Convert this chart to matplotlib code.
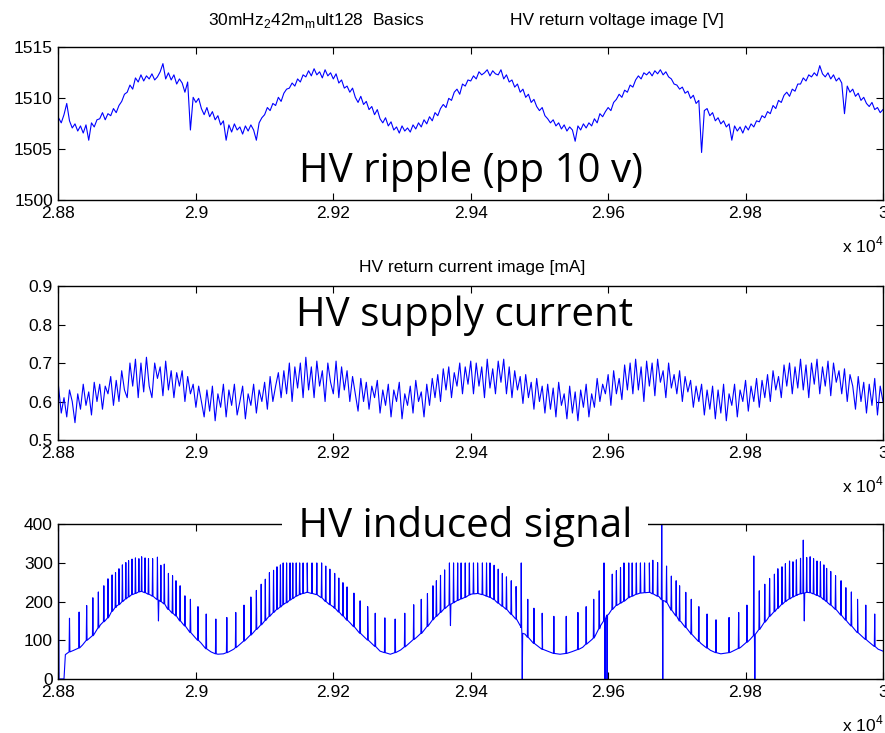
import numpy as np
import matplotlib
matplotlib.use('Agg')
import matplotlib.pyplot as plt
from matplotlib.ticker import FuncFormatter

# time axis of the first two traces
t_volt = np.arange(28800, 30001, 4)
t_curr = np.arange(28800, 30001, 4)

# HV return voltage image [V]
volt = [1508.1, 1507.6, 1508.4, 1509.5, 1507.8, 1507.1, 1507.5, 1506.8, 1507.3, 1506.6, 1507.4, 1505.9, 1507.6, 1507.2, 1507.9,
        1508.0, 1508.6, 1507.9, 1508.5, 1508.3, 1509.0, 1508.6, 1509.3, 1509.7, 1510.4, 1510.6, 1511.3, 1510.9, 1512.0, 1511.6,
        1512.3, 1511.7, 1512.2, 1511.9, 1512.4, 1511.8, 1512.1, 1512.6, 1513.4, 1511.9, 1512.5, 1511.8, 1512.3, 1511.4, 1511.9,
        1511.5, 1510.6, 1511.6, 1506.9, 1510.1, 1509.6, 1510.0, 1509.0, 1508.4, 1509.1, 1508.2, 1508.7, 1507.9, 1508.3, 1507.4,
        1507.8, 1505.9, 1507.4, 1506.7, 1507.5, 1506.9, 1507.2, 1506.5, 1507.3, 1506.8, 1507.4, 1506.9, 1505.9, 1507.6, 1508.1,
        1508.4, 1509.1, 1508.8, 1509.5, 1509.3, 1510.1, 1509.7, 1510.5, 1510.9, 1511.0, 1511.5, 1511.2, 1511.9, 1511.6, 1512.3,
        1512.1, 1512.7, 1512.2, 1512.9, 1512.3, 1512.6, 1512.0, 1512.8, 1512.2, 1512.5, 1511.9, 1512.4, 1511.5, 1511.8, 1511.0,
        1511.2, 1510.6, 1511.0, 1510.1, 1509.6, 1510.2, 1509.4, 1509.7, 1508.9, 1509.2, 1508.4, 1508.9, 1508.0, 1507.6, 1508.1,
        1507.3, 1507.7, 1506.9, 1507.2, 1506.6, 1507.3, 1506.8, 1507.1, 1506.7, 1507.4, 1507.0, 1507.6, 1507.2, 1507.9, 1507.5,
        1508.2, 1507.8, 1508.6, 1508.3, 1509.0, 1509.4, 1509.1, 1510.0, 1509.8, 1510.6, 1510.9, 1510.4, 1511.4, 1511.2, 1511.8,
        1511.7, 1512.2, 1511.9, 1512.6, 1512.3, 1512.5, 1512.8, 1512.2, 1512.7, 1512.4, 1512.3, 1512.8, 1511.9, 1512.3, 1511.6,
        1511.8, 1511.1, 1511.4, 1510.6, 1510.9, 1510.1, 1510.4, 1509.6, 1509.9, 1509.2, 1508.8, 1509.1, 1508.3, 1508.0, 1507.6,
        1507.9, 1507.3, 1507.6, 1507.0, 1507.4, 1506.8, 1507.2, 1506.9, 1505.8, 1507.3, 1506.9, 1507.5, 1507.1, 1507.6, 1507.3,
        1508.0, 1507.6, 1508.5, 1508.2, 1508.7, 1509.1, 1508.8, 1509.6, 1509.9, 1510.4, 1510.1, 1510.8, 1510.6, 1511.3, 1511.1,
        1511.8, 1512.2, 1511.9, 1512.5, 1512.3, 1512.6, 1512.2, 1512.7, 1512.4, 1512.8, 1512.3, 1512.6, 1512.1, 1511.9, 1511.4,
        1511.3, 1510.9, 1511.1, 1510.5, 1510.7, 1510.0, 1510.3, 1509.5, 1509.8, 1504.7, 1508.8, 1509.0, 1508.3, 1508.6, 1507.8,
        1508.1, 1507.5, 1507.8, 1507.2, 1507.5, 1505.9, 1507.3, 1506.8, 1507.2, 1506.6, 1507.3, 1506.9, 1507.5, 1507.2, 1507.8,
        1507.7, 1508.3, 1508.1, 1508.7, 1508.5, 1509.3, 1509.0, 1509.8, 1509.6, 1510.3, 1510.6, 1510.2, 1510.9, 1510.7, 1511.4,
        1511.4, 1512.0, 1511.7, 1512.3, 1512.1, 1512.5, 1512.2, 1513.2, 1512.4, 1512.1, 1512.5, 1511.9, 1512.3, 1511.7, 1512.0,
        1511.5, 1508.5, 1511.2, 1510.6, 1510.9, 1510.2, 1510.5, 1509.8, 1510.1, 1509.5, 1509.2, 1509.6, 1508.9, 1509.1, 1508.6,
        1508.9]

# HV return current image [mA]
curr = [0.64, 0.57, 0.61, 0.56, 0.63, 0.60, 0.545, 0.62, 0.58, 0.645, 0.59, 0.625, 0.565, 0.65, 0.60,
        0.645, 0.58, 0.64, 0.62, 0.665, 0.59, 0.655, 0.60, 0.68, 0.63, 0.61, 0.70, 0.64, 0.71, 0.61,
        0.70, 0.625, 0.715, 0.64, 0.61, 0.70, 0.66, 0.69, 0.615, 0.705, 0.63, 0.68, 0.61, 0.675, 0.64,
        0.68, 0.60, 0.665, 0.62, 0.645, 0.585, 0.64, 0.60, 0.56, 0.63, 0.575, 0.64, 0.55, 0.62, 0.585,
        0.645, 0.56, 0.63, 0.59, 0.645, 0.565, 0.60, 0.64, 0.555, 0.62, 0.59, 0.645, 0.57, 0.63, 0.60,
        0.65, 0.58, 0.665, 0.60, 0.64, 0.675, 0.61, 0.68, 0.62, 0.70, 0.60, 0.69, 0.635, 0.70, 0.61,
        0.715, 0.63, 0.69, 0.61, 0.705, 0.64, 0.68, 0.60, 0.70, 0.65, 0.62, 0.705, 0.61, 0.69, 0.63,
        0.68, 0.60, 0.665, 0.62, 0.575, 0.66, 0.60, 0.65, 0.58, 0.64, 0.61, 0.655, 0.57, 0.63, 0.59,
        0.645, 0.56, 0.63, 0.60, 0.65, 0.555, 0.62, 0.59, 0.64, 0.57, 0.655, 0.60, 0.625, 0.56, 0.645,
        0.59, 0.66, 0.61, 0.67, 0.60, 0.685, 0.63, 0.69, 0.61, 0.675, 0.64, 0.70, 0.62, 0.69, 0.645,
        0.705, 0.62, 0.70, 0.64, 0.69, 0.61, 0.71, 0.635, 0.685, 0.62, 0.705, 0.65, 0.71, 0.62, 0.69,
        0.61, 0.68, 0.63, 0.665, 0.595, 0.67, 0.61, 0.65, 0.58, 0.66, 0.60, 0.64, 0.57, 0.645, 0.58,
        0.635, 0.56, 0.65, 0.59, 0.62, 0.555, 0.64, 0.57, 0.625, 0.55, 0.63, 0.585, 0.645, 0.56, 0.62,
        0.585, 0.66, 0.60, 0.645, 0.62, 0.67, 0.59, 0.68, 0.62, 0.66, 0.605, 0.695, 0.63, 0.70, 0.62,
        0.71, 0.63, 0.69, 0.60, 0.705, 0.64, 0.70, 0.615, 0.71, 0.65, 0.68, 0.61, 0.70, 0.635, 0.67,
        0.62, 0.68, 0.60, 0.665, 0.625, 0.655, 0.585, 0.64, 0.60, 0.645, 0.565, 0.63, 0.58, 0.64, 0.555,
        0.63, 0.57, 0.645, 0.55, 0.62, 0.59, 0.645, 0.56, 0.63, 0.60, 0.655, 0.575, 0.64, 0.60, 0.66,
        0.585, 0.655, 0.61, 0.67, 0.60, 0.68, 0.63, 0.665, 0.61, 0.695, 0.64, 0.70, 0.62, 0.69, 0.635,
        0.71, 0.63, 0.695, 0.61, 0.70, 0.645, 0.71, 0.62, 0.69, 0.64, 0.705, 0.615, 0.70, 0.65, 0.68,
        0.62, 0.685, 0.60, 0.67, 0.64, 0.58, 0.665, 0.60, 0.65, 0.57, 0.645, 0.59, 0.66, 0.565, 0.64,
        0.60]

# induced signal: slow baseline
base_t = [28800, 28800.8, 28808, 28810, 28822, 28835, 28861, 28885, 28910, 28919,
          28934, 28958, 28982, 29007, 29022, 29032, 29040, 29055, 29080, 29104,
          29128, 29152, 29162, 29177, 29201, 29225, 29250, 29268, 29283, 29298,
          29322, 29347, 29376, 29400, 29410, 29422, 29436, 29451, 29466, 29473,
          29479, 29490, 29504, 29519, 29530, 29548, 29563, 29577, 29589, 29601,
          29616, 29631, 29645, 29660, 29674, 29684, 29691, 29706, 29720, 29735,
          29749, 29764, 29778, 29793, 29807, 29817, 29832, 29847, 29861, 29876,
          29890, 29905, 29919, 29934, 29948, 29963, 29978, 29993, 30000]
base_v = [400, 0, 0, 63, 74, 88, 140, 189, 220, 226,
          217, 183, 140, 94, 70, 64, 65, 77, 114, 157,
          194, 219, 224, 217, 185, 144, 101, 72, 64, 75,
          109, 157, 198, 219, 221, 215, 202, 181, 155, 133,
          116, 95, 77, 67, 64, 71, 82, 103, 138, 168,
          194, 211, 221, 224, 213, 200, 180, 148, 118, 92,
          74, 65, 69, 82, 103, 122, 155, 183, 204, 218,
          224, 216, 198, 175, 148, 120, 98, 77, 72]

# induced signal: single-sample spikes (time, peak value, baseline under it)
spike_t = [28816, 28830, 28841, 28850, 28858, 28866, 28872, 28878, 28883, 28888,
           28893, 28898, 28902, 28907, 28912, 28917, 28921, 28926, 28931, 28937,
           28944, 28945.5, 28949, 28954, 28960, 28966, 28971, 28977, 28984, 28992,
           29003, 29015, 29029, 29045, 29058, 29070, 29080, 29088, 29095, 29101,
           29107, 29113, 29118, 29123, 29127, 29132, 29137, 29141, 29146, 29151,
           29156, 29162, 29169, 29176, 29183, 29189, 29195, 29202, 29208, 29214,
           29220, 29230, 29239, 29250, 29261, 29275, 29290, 29304, 29317, 29328,
           29337, 29345, 29350, 29356, 29362, 29369, 29370.5, 29375, 29381, 29386,
           29392, 29398, 29404, 29410, 29417, 29423, 29428, 29434, 29440, 29446,
           29452, 29459, 29466, 29473.5, 29475, 29483, 29492, 29504, 29521, 29539,
           29556, 29568, 29579, 29587, 29594, 29595.5, 29598.5, 29606, 29612, 29618,
           29623, 29630, 29635, 29641, 29647, 29653, 29660, 29665, 29672, 29678,
           29679.5, 29685, 29692, 29699, 29704, 29713, 29721, 29732, 29744, 29757,
           29776, 29790, 29802, 29812, 29813.5, 29820, 29828, 29835, 29842, 29847,
           29853, 29858, 29864, 29869, 29874, 29880, 29884, 29885.5, 29889, 29894,
           29899, 29904, 29909, 29914, 29918, 29924, 29931, 29939, 29946, 29954,
           29963, 29975, 29988]
spike_top = [157, 173, 190, 210, 225, 241, 259, 269, 275, 285,
             295, 301, 306, 310, 313, 311, 316, 313, 311, 311,
             315, 150, 294, 297, 273, 267, 254, 241, 215, 206,
             187, 168, 155, 159, 172, 191, 212, 229, 245, 258,
             275, 281, 290, 295, 300, 300, 300, 300, 300, 300,
             300, 300, 300, 300, 300, 292, 284, 273, 261, 249,
             238, 222, 202, 187, 170, 158, 155, 170, 192, 206,
             221, 241, 254, 268, 282, 300, 138, 300, 300, 300,
             300, 300, 300, 300, 300, 300, 300, 294, 284, 273,
             264, 254, 239, 300, 0, 206, 183, 170, 162, 162,
             172, 187, 206, 228, 300, 0, 0, 271, 280, 288,
             300, 300, 300, 300, 300, 300, 300, 307, 301, 400,
             0, 292, 266, 254, 241, 224, 206, 187, 168, 153,
             159, 172, 191, 318, 0, 228, 245, 260, 271, 285,
             290, 298, 305, 303, 308, 312, 359, 150, 314, 316,
             311, 305, 303, 295, 286, 278, 267, 254, 236, 225,
             206, 191, 168]
spike_foot = [70, 80, 100, 112, 132, 148, 158, 175, 185, 192,
              200, 207, 212, 218, 221, 225, 226, 223, 219, 214,
              205, 204, 200, 194, 180, 170, 163, 150, 137, 120,
              100, 78, 65, 68, 81, 98, 114, 128, 140, 151,
              162, 172, 180, 186, 192, 197, 204, 208, 214, 218,
              221, 224, 221, 218, 210, 200, 192, 183, 173, 163,
              152, 135, 118, 101, 84, 68, 68, 83, 102, 118,
              136, 153, 162, 172, 182, 192, 193, 197, 203, 207,
              211, 217, 220, 221, 218, 214, 211, 205, 196, 188,
              180, 167, 155, 135, 118, 108, 92, 77, 66, 66,
              76, 90, 106, 130, 150, 155, 165, 180, 190, 196,
              201, 210, 214, 219, 222, 223, 224, 220, 214, 205,
              203, 198, 178, 163, 150, 133, 116, 97, 80, 68,
              68, 79, 95, 112, 115, 128, 147, 162, 174, 183,
              193, 200, 207, 212, 216, 220, 222, 222, 224, 223,
              220, 216, 212, 205, 200, 191, 180, 165, 152, 137,
              120, 102, 84]

xticks = [28800, 29000, 29200, 29400, 29600, 29800, 30000]

plt.rcParams['font.family'] = 'Liberation Sans'
plt.rcParams['font.size'] = 12.5

fig = plt.figure(figsize=(8.85, 7.33), dpi=100)
ax1 = fig.add_axes([0.0661, 0.7265, 0.9316, 0.2090])
ax2 = fig.add_axes([0.0661, 0.3997, 0.9316, 0.2101])
ax3 = fig.add_axes([0.0661, 0.0737, 0.9316, 0.2111])

ax1.plot(t_volt, volt, color='b', lw=0.8)
ax2.plot(t_curr, curr, color='b', lw=0.8)

st = np.array(spike_t, dtype=float)
xs = np.concatenate([base_t, st - 0.6, st, st + 0.6])
ys = np.concatenate([base_v, spike_foot, spike_top, spike_foot])
order = np.argsort(xs, kind='stable')
ax3.plot(xs[order], ys[order], color='b', lw=0.8)


def style(ax, ylim, yticks):
    ax.set_xlim(28800, 30000)
    ax.set_ylim(*ylim)
    ax.set_xticks(xticks)
    ax.set_yticks(yticks)
    ax.xaxis.set_major_formatter(FuncFormatter(lambda v, p: '%g' % (v / 1e4)))
    ax.ticklabel_format(axis='y', useOffset=False)
    ax.tick_params(direction='in', length=5, width=0.8, top=True, right=True, pad=4)
    for s in ax.spines.values():
        s.set_linewidth(1.0)
    ax.annotate(r'x 10$^{\mathregular{4}}$', xy=(1, 0), xycoords='axes fraction',
                xytext=(0, -45), textcoords='offset pixels', ha='right', va='center')


style(ax1, (1500, 1515), [1500, 1505, 1510, 1515])
style(ax2, (0.5, 0.9), [0.5, 0.6, 0.7, 0.8, 0.9])
style(ax3, (0, 400), [0, 100, 200, 300, 400])

fig.text(208 / 885, 1 - 25 / 733, r'30mHz$_\mathregular{2}$42m$_\mathregular{m}$ult128  Basics',
         ha='left', va='baseline')
fig.text(510 / 885, 1 - 25 / 733, 'HV return voltage image [V]', ha='left', va='baseline')
fig.text(472 / 885, 1 - 272 / 733, 'HV return current image [mA]', ha='center', va='baseline')

fig.text(471 / 885, 1 - 182 / 733, 'HV ripple (pp 10 v)', family='Open Sans', fontsize=29,
         ha='center', va='baseline')
fig.text(465 / 885, 1 - 326 / 733, 'HV supply current', family='Open Sans', fontsize=29,
         ha='center', va='baseline')
fig.text(465 / 885, 1 - 537 / 733, ' HV induced signal ', family='Open Sans', fontsize=29,
         ha='center', va='baseline',
         bbox=dict(facecolor='white', edgecolor='none', boxstyle='square,pad=0.15'))

fig.savefig('out.png', dpi=100)
